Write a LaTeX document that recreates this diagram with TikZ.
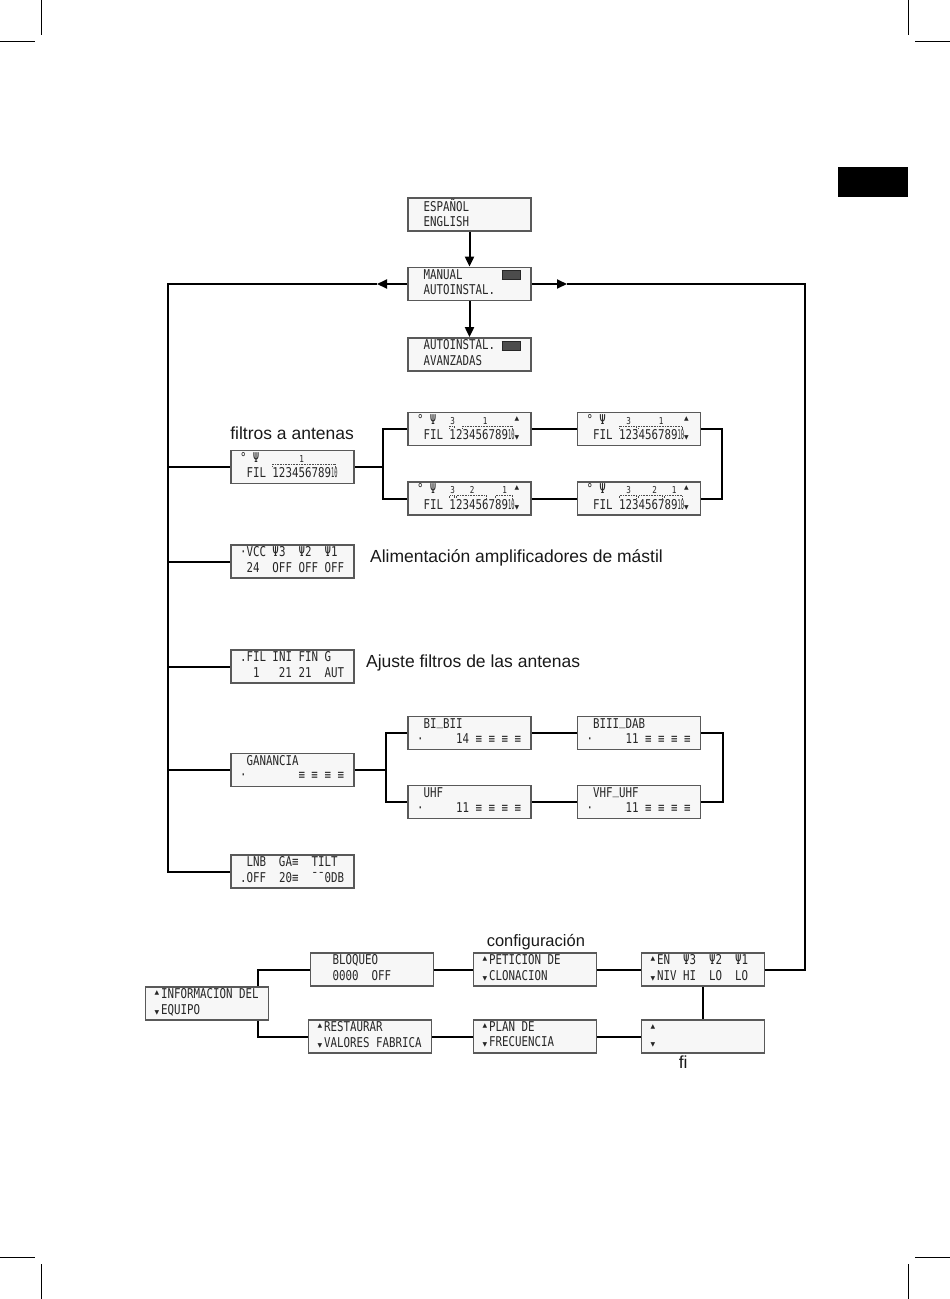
\documentclass[tikz,border=0pt]{standalone}
\usepackage{fontspec}
\usepackage{graphicx}
\usetikzlibrary{arrows.meta}
\newfontfamily\lcdfont[FakeStretch=0.8]{DejaVu Sans Mono}
\newfontfamily\trifont{DejaVu Sans}
\newfontfamily\lblfont{Liberation Sans}
\newlength\lcdcw \setlength\lcdcw{6.5pt}
\def\lcdsel{\lcdfont\fontsize{13.5}{14}\selectfont\def~{\hspace*{\lcdcw}}}
\def\lcdtxt#1#2{\strut#1\\\strut#2}
\def\lcdup{\makebox[\lcdcw][l]{\raisebox{4pt}{\trifont\fontsize{6}{6}\selectfont ▲}}}
\def\lcddn{\makebox[\lcdcw][l]{\trifont\fontsize{6}{6}\selectfont ▼}}
\def\lcdus{\makebox[\lcdcw][c]{\raisebox{3pt}{\_}}}
\def\lcdten{\makebox[\lcdcw][c]{\scalebox{0.5}[1]{10}}}
\def\lcdsm#1{\makebox[\lcdcw][c]{\fontsize{9.5}{9.5}\selectfont #1}}
\def\escicon{{\setlength\fboxsep{0pt}\setlength\fboxrule{0.8pt}\fcolorbox{black!85}{black!70}{\rule{0pt}{8.5pt}\rule{17.5pt}{0pt}}}}
\def\lcdbrk#1#2#3{\draw[brk] ([shift={(10+6.5*#2,17)}]#1.north west) -- ++(0,-2.5) -- ([shift={(8+6.5*#3+6.5,14.5)}]#1.north west) -- ++(0,2.5);}
\tikzset{
	lcdbox/.style={draw=black!65, line width=1.8pt, fill=black!3, minimum width=123pt, minimum height=33pt,
		inner xsep=9pt, inner ysep=0pt, text width=105pt, align=left,
		font=\lcdsel, text=black!85},
	conn/.style={line width=2pt, black},
	arr/.style={conn, -{Triangle[length=10pt,width=9pt]}},
	lbl/.style={font=\lblfont\fontsize{17.5}{20}\selectfont, text=black!90, inner sep=0pt},
	brk/.style={line width=0.7pt, black!70, dash pattern=on 0.8pt off 0.8pt},
	crop/.style={line width=0.8pt, black}
}

\begin{document}
\begin{tikzpicture}[x=1pt,y=-1pt]
			%%%%% START %%%%%
			\useasboundingbox (0,0) rectangle (950,1299);
			
			\draw[crop] (41,0) -- (41,35);
			\draw[crop] (0,41) -- (35,41);
			\draw[crop] (908,0) -- (908,35);
			\draw[crop] (915,41) -- (950,41);
			\draw[crop] (41,1264) -- (41,1299);
			\draw[crop] (0,1257) -- (35,1257);
			\draw[crop] (908,1264) -- (908,1299);
			\draw[crop] (915,1257) -- (950,1257);
			\fill[black] (838,167) rectangle (908,197);
			
			\node[lcdbox] (espanol) at (469.5,214.5) {\lcdtxt{~ESPAÑOL}{~ENGLISH}};
			\node[lcdbox] (manual) at (469.5,284) {\lcdtxt{~MANUAL~~~~~~\escicon}{~AUTOINSTAL.}};
			\node[lcdbox] (autoinst) at (469.5,354.5) {\lcdtxt{~AUTOINSTAL.~\escicon}{~AVANZADAS}};
			
			\node[lcdbox] (filL) at (292.5,467) {\lcdtxt{°~Ψ~~~~~~\lcdsm{1}}{~FIL~123456789\lcdten}};
			\node[lcdbox] (filA) at (469.5,429) {\lcdtxt{°~Ψ~~\lcdsm{3}~~~~\lcdsm{1}~~~~\lcdup}{~FIL~123456789\lcdten\lcddn}};
			\node[lcdbox] (filB) at (469.5,498.5) {\lcdtxt{°~Ψ~~\lcdsm{3}~~\lcdsm{2}~~~~\lcdsm{1}~\lcdup}{~FIL~123456789\lcdten\lcddn}};
			\node[lcdbox] (filC) at (639,429) {\lcdtxt{°~Ψ~~~\lcdsm{3}~~~~\lcdsm{1}~~~\lcdup}{~FIL~123456789\lcdten\lcddn}};
			\node[lcdbox] (filD) at (639,498.5) {\lcdtxt{°~Ψ~~~\lcdsm{3}~~~\lcdsm{2}~~\lcdsm{1}~\lcdup}{~FIL~123456789\lcdten\lcddn}};
			\lcdbrk{filL}{5}{14}
			\lcdbrk{filA}{5}{5}
			\lcdbrk{filA}{7}{14}
			\lcdbrk{filB}{5}{5}
			\lcdbrk{filB}{6}{10}
			\lcdbrk{filB}{12}{14}
			\lcdbrk{filC}{5}{7}
			\lcdbrk{filC}{8}{14}
			\lcdbrk{filD}{5}{7}
			\lcdbrk{filD}{8}{11}
			\lcdbrk{filD}{12}{14}
			\node[lbl, anchor=base west] (lblFiltros) at ([yshift=10pt]filL.north west) {filtros a antenas};
			
			\node[lcdbox] (vcc) at (292.5,561.5) {\lcdtxt{·VCC~Ψ3~~Ψ2~~Ψ1}{~24~~OFF~OFF~OFF}};
			\node[lbl, anchor=base west] (lblVcc) at ([xshift=15pt,yshift=-1pt]vcc.east) {Alimentación amplificadores de mástil};
			
			\node[lcdbox] (ini) at (292.5,666.5) {\lcdtxt{.FIL~INI~FIN~G}{~~1~~~21~21~~AUT}};
			\node[lbl, anchor=base west] (lblIni) at ([xshift=11pt,yshift=-1pt]ini.east) {Ajuste filtros de las antenas};
			
			\node[lcdbox] (ganancia) at (292.5,770) {\lcdtxt{~GANANCIA}{·~~~~~~~~≡~≡~≡~≡}};
			\node[lcdbox] (bibii) at (469.5,733) {\lcdtxt{~BI\lcdus BII}{·~~~~~14~≡~≡~≡~≡}};
			\node[lcdbox] (uhf) at (469.5,802) {\lcdtxt{~UHF}{·~~~~~11~≡~≡~≡~≡}};
			\node[lcdbox] (biiidab) at (639,733) {\lcdtxt{~BIII\lcdus DAB}{·~~~~~11~≡~≡~≡~≡}};
			\node[lcdbox] (vhfuhf) at (639,802) {\lcdtxt{~VHF\lcdus UHF}{·~~~~~11~≡~≡~≡~≡}};
			
			\node[lcdbox] (lnb) at (292.5,871.5) {\lcdtxt{~LNB~~GA≡~~TILT}{.OFF~~20≡~~¯¯0DB}};
			
			\node[lcdbox] (info) at (207,1003.5) {\lcdtxt{\lcdup INFORMACION~DEL}{\lcddn EQUIPO}};
			\node[lcdbox] (bloqueo) at (372,969.5) {\lcdtxt{~~BLOQUEO}{~~0000~~OFF}};
			\node[lcdbox] (peticion) at (535,969.5) {\lcdtxt{\lcdup PETICION~DE}{\lcddn CLONACION}};
			\node[lcdbox] (en) at (703,969.5) {\lcdtxt{\lcdup EN~~Ψ3~~Ψ2~~Ψ1}{\lcddn NIV~HI~~LO~~LO}};
			\node[lcdbox] (restaurar) at (370,1036.5) {\lcdtxt{\lcdup RESTAURAR}{\lcddn VALORES~FABRICA}};
			\node[lcdbox] (plan) at (535,1036.5) {\lcdtxt{\lcdup PLAN~DE}{\lcddn FRECUENCIA}};
			\node[lcdbox] (empty) at (703,1036.5) {\lcdtxt{\lcdup}{\lcddn}};
			\node[lbl, font=\lblfont\fontsize{16.5}{19}\selectfont, anchor=base west] (lblConf) at ([xshift=14pt,yshift=6pt]peticion.north west) {configuración};
			\node[lbl, anchor=base west] (lblFi) at ([xshift=38pt,yshift=-15pt]empty.south west) {fi};
			
			% connectors
			\coordinate (arrL) at (377,284);
			\coordinate (arrR) at (567,284);
			\coordinate (trunkEnd) at (168,871.5);
			\coordinate (rightEnd) at (805,969.5);
			\draw[arr] (espanol) -- (manual);
			\draw[arr] (manual) -- (autoinst);
			\draw[arr] (manual.west) -- (arrL);
			\draw[conn] (arrL) -| (trunkEnd) -- (lnb.west);
			\draw[arr] (manual.east) -- (arrR);
			\draw[conn] (arrR) -| (rightEnd) -- (en.east);
			\foreach \b in {filL,vcc,ini,ganancia}
				\draw[conn] (trunkEnd |- \b.west) -- (\b.west);
			
			\coordinate (forkF) at (383,467);
			\coordinate (loopF) at (722,463);
			\draw[conn] (filL.east) -- (forkF);
			\draw[conn] (filA.west) -| (forkF) |- (filB.west);
			\draw[conn] (filA) -- (filC);
			\draw[conn] (filB) -- (filD);
			\draw[conn] (filC.east) -| (loopF) |- (filD.east);
			
			\coordinate (forkG) at (386,770);
			\coordinate (loopG) at (723,767);
			\draw[conn] (ganancia.east) -- (forkG);
			\draw[conn] (bibii.west) -| (forkG) |- (uhf.west);
			\draw[conn] (bibii) -- (biiidab);
			\draw[conn] (uhf) -- (vhfuhf);
			\draw[conn] (biiidab.east) -| (loopG) |- (vhfuhf.east);
			
			\draw[conn] ([xshift=-11pt]info.north east) |- (bloqueo.west);
			\draw[conn] ([xshift=-11pt]info.south east) |- (restaurar.west);
			\draw[conn] (bloqueo) -- (peticion);
			\draw[conn] (peticion) -- (en);
			\draw[conn] (restaurar) -- (plan);
			\draw[conn] (plan) -- (empty);
			\draw[conn] (en) -- (empty);
			
			%%%%% END %%%%%
\end{tikzpicture}
\end{document}
